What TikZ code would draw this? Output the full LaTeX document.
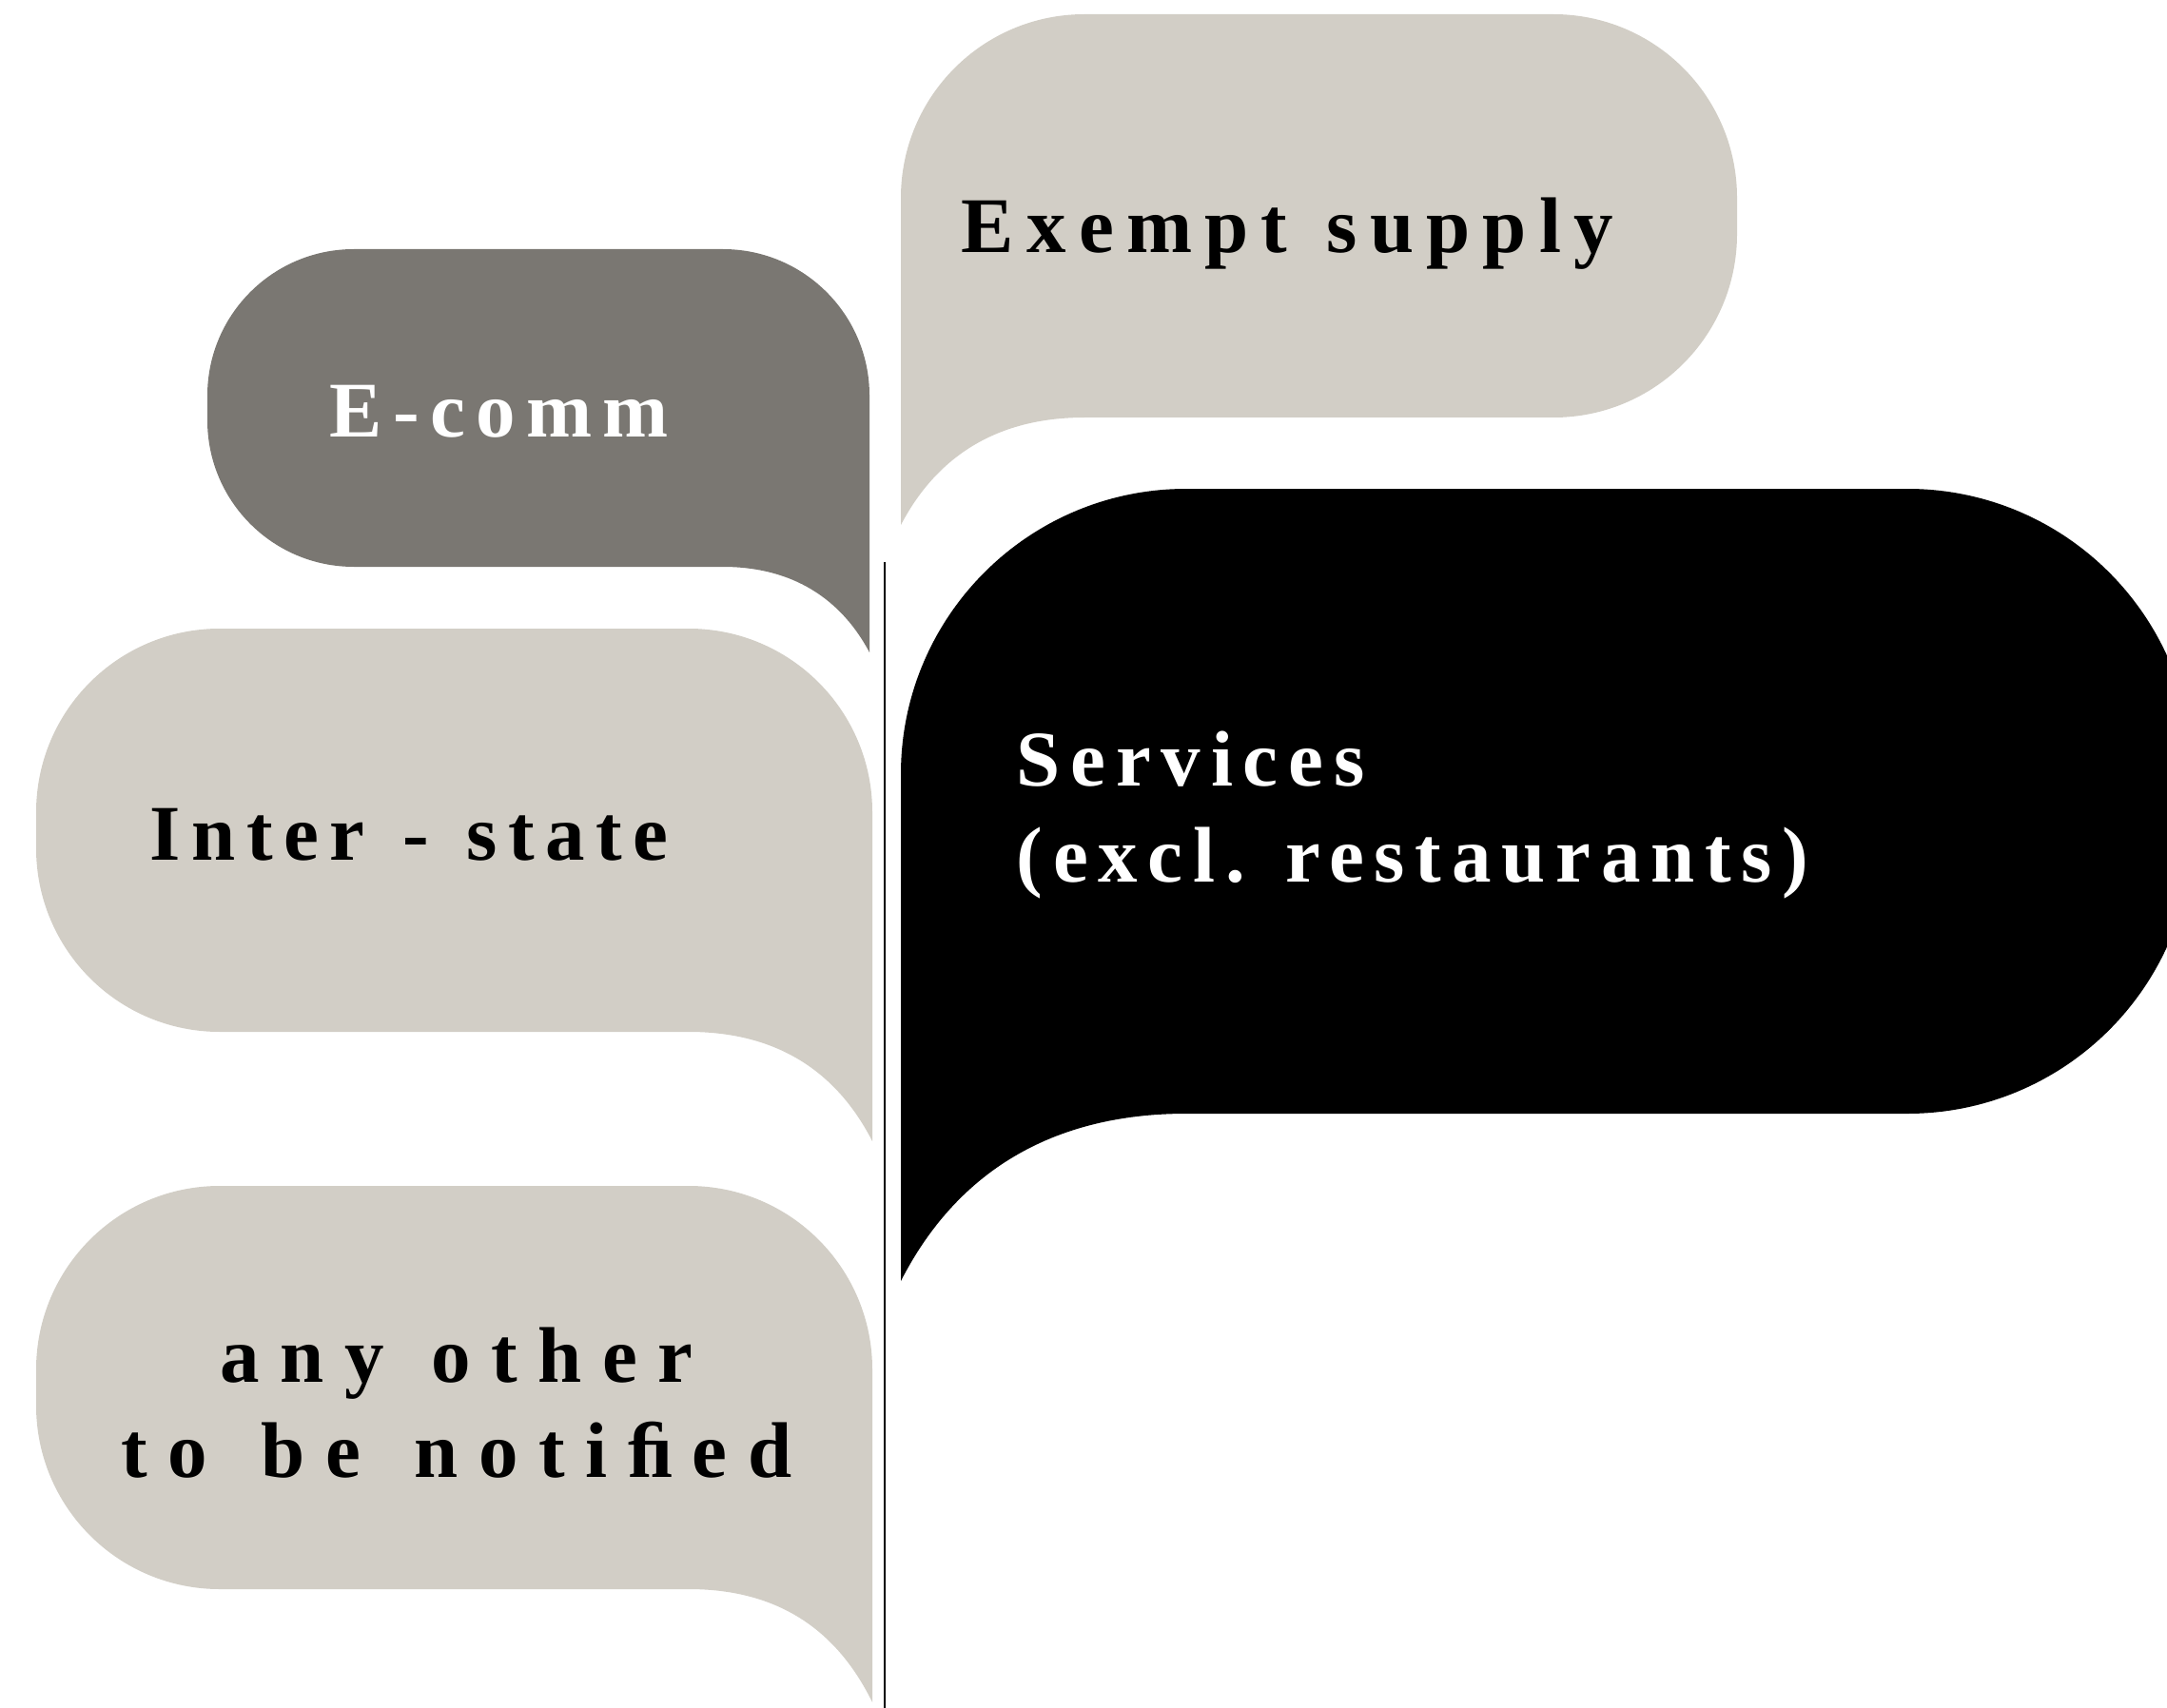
\documentclass[tikz,border=0pt]{standalone}
\usepackage{fontspec}
\setmainfont{Liberation Serif}
\newfontfamily\exemptfont[LetterSpace=16]{Liberation Serif}
\newfontfamily\ecommfont[LetterSpace=13.6]{Liberation Serif}
\newfontfamily\interfont[LetterSpace=14]{Liberation Serif}
\newfontfamily\otherfont[LetterSpace=26]{Liberation Serif}
\newfontfamily\servicefont[LetterSpace=13]{Liberation Serif}
\usepackage{tikz}
\usetikzlibrary{positioning}

\definecolor{bubblelight}{HTML}{D2CEC6}
\definecolor{bubbledark}{HTML}{7A7772}

\tikzset{
    bubble text/.style={font={#1\bfseries\fontsize{23.6}{28.5}\selectfont}, inner sep=0pt},
}

\begin{document}
\begin{tikzpicture}
    \useasboundingbox (0,0) rectangle (22.78,-17.96);

    % Exempt supply bubble, tail at bottom left
    \fill[bubblelight] (9.47,-5.52) -- (9.47,-2.08)
        arc[start angle=180, end angle=90, radius=1.93] -- (16.33,-0.15)
        arc[start angle=90, end angle=0, radius=1.93] -- (18.26,-2.46)
        arc[start angle=0, end angle=-90, radius=1.93] -- (11.40,-4.39)
        .. controls (10.60,-4.39) and (9.90,-4.70) .. (9.47,-5.52) -- cycle;

    % E-comm bubble, tail at bottom right
    \fill[bubbledark] (9.14,-6.86) -- (9.14,-4.16)
        arc[start angle=0, end angle=90, radius=1.54] -- (3.72,-2.62)
        arc[start angle=90, end angle=180, radius=1.54] -- (2.18,-4.42)
        arc[start angle=180, end angle=270, radius=1.54] -- (7.60,-5.96)
        .. controls (8.24,-5.96) and (8.80,-6.22) .. (9.14,-6.86) -- cycle;

    % Inter-state bubble
    \fill[bubblelight] (9.17,-12.00) -- (9.17,-8.54)
        arc[start angle=0, end angle=90, radius=1.93] -- (2.31,-6.61)
        arc[start angle=90, end angle=180, radius=1.93] -- (0.38,-8.92)
        arc[start angle=180, end angle=270, radius=1.93] -- (7.24,-10.85)
        .. controls (8.04,-10.85) and (8.74,-11.16) .. (9.17,-12.00) -- cycle;

    % any other bubble
    \fill[bubblelight] (9.17,-17.90) -- (9.17,-14.40)
        arc[start angle=0, end angle=90, radius=1.93] -- (2.31,-12.47)
        arc[start angle=90, end angle=180, radius=1.93] -- (0.38,-14.78)
        arc[start angle=180, end angle=270, radius=1.93] -- (7.24,-16.71)
        .. controls (8.04,-16.71) and (8.74,-17.02) .. (9.17,-17.90) -- cycle;

    % Services bubble (runs off the right edge)
    \fill[black] (9.47,-13.47) -- (9.47,-8.14)
        arc[start angle=180, end angle=90, radius=3.00] -- (20.05,-5.14)
        arc[start angle=90, end angle=0, radius=3.00] -- (23.05,-8.71)
        arc[start angle=0, end angle=-90, radius=3.00] -- (12.47,-11.71)
        .. controls (11.24,-11.71) and (10.13,-12.18) .. (9.47,-13.47) -- cycle;

    % Divider
    \coordinate (divtop) at (9.30,-5.91);
    \coordinate (divbottom) at (9.30,-17.96);
    \draw[line width=0.7pt] (divtop) -- (divbottom);

    % Labels
    \node[bubble text=\exemptfont, anchor=base west] (exempt) at (10.10,-2.66) {Exempt \hspace{2pt}supply};
    \node[bubble text=\ecommfont, white, anchor=base west] (ecomm) at (3.46,-4.59) {E-comm};
    \node[bubble text=\interfont, anchor=base west] (interstate) at (1.57,-9.04) {Inter \hspace{2pt}- \hspace{2pt}state};
    \node[bubble text=\otherfont, align=center] (anyother) at (4.80,-14.75) {any \hspace{2pt}other\\to \hspace{4pt}be \hspace{4pt}noti\char"FB01 ed};
    \node[bubble text=\servicefont, white, align=left, anchor=west] (services) at (10.68,-8.57) {Services\\(excl. restaurants)};
\end{tikzpicture}
\end{document}
